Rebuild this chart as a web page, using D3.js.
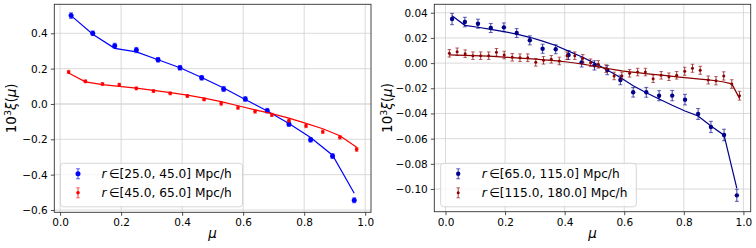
<!DOCTYPE html>
<html>
<head>
<meta charset="utf-8" />
<title>xi mu</title>
<script src="https://cdn.jsdelivr.net/npm/d3@7"></script>
<style>
  body { margin: 0; background: #fff; }
  svg { font-family: "DejaVu Sans", sans-serif; }
</style>
</head>
<body>
<svg width="756" height="248"></svg>
<script>
// ---- data ----
var xTicks = [0.0, 0.2, 0.4, 0.6, 0.8, 1.0];
var leftYTicks = [-0.6, -0.4, -0.2, 0.0, 0.2, 0.4];
var rightYTicks = [-0.10, -0.08, -0.06, -0.04, -0.02, 0.00, 0.02, 0.04];

// left panel, r in [25,45], 14 bins
var muA = [0.036, 0.107, 0.179, 0.250, 0.321, 0.393, 0.464, 0.536, 0.607, 0.679, 0.750, 0.821, 0.893, 0.964];
var dataA = [0.500, 0.400, 0.330, 0.305, 0.250, 0.205, 0.148, 0.085, 0.028, -0.038, -0.113, -0.203, -0.295, -0.545];
var errA = [0.016, 0.013, 0.014, 0.015, 0.013, 0.013, 0.013, 0.014, 0.013, 0.013, 0.014, 0.013, 0.014, 0.014];
var modelA = [0.500, 0.395, 0.315, 0.295, 0.250, 0.205, 0.150, 0.090, 0.025, -0.040, -0.110, -0.190, -0.290, -0.505];

// left panel, r in [45,65], 18 bins
var muB = [0.028, 0.083, 0.139, 0.194, 0.250, 0.306, 0.361, 0.417, 0.472, 0.528, 0.583, 0.639, 0.694, 0.750, 0.806, 0.861, 0.917, 0.972];
var dataB = [0.181, 0.128, 0.113, 0.109, 0.088, 0.073, 0.060, 0.045, 0.026, 0.002, -0.021, -0.043, -0.062, -0.094, -0.124, -0.157, -0.189, -0.257];
var errB = [0.009, 0.008, 0.008, 0.008, 0.008, 0.008, 0.008, 0.008, 0.008, 0.009, 0.009, 0.009, 0.009, 0.009, 0.010, 0.010, 0.010, 0.011];
var modelB = [0.175, 0.125, 0.110, 0.100, 0.090, 0.077, 0.064, 0.050, 0.033, 0.013, -0.010, -0.033, -0.055, -0.080, -0.110, -0.140, -0.180, -0.245];

// right panel, r in [65,115], 23 bins
var muC = [0.022, 0.065, 0.109, 0.152, 0.196, 0.239, 0.283, 0.326, 0.370, 0.413, 0.457, 0.500, 0.543, 0.587, 0.630, 0.674, 0.717, 0.761, 0.804, 0.848, 0.891, 0.935, 0.978];
var dataC = [0.0350, 0.0326, 0.0313, 0.0279, 0.0284, 0.0239, 0.0181, 0.0114, 0.0110, 0.0064, 0.0006, -0.0018, -0.0055, -0.0134, -0.0232, -0.0232, -0.0259, -0.0258, -0.0290, -0.0404, -0.0507, -0.0571, -0.1050];
var errC = [0.0045, 0.0038, 0.0036, 0.0036, 0.0035, 0.0035, 0.0036, 0.0036, 0.0036, 0.0036, 0.0037, 0.0037, 0.0037, 0.0038, 0.0038, 0.0039, 0.0040, 0.0041, 0.0042, 0.0043, 0.0045, 0.0046, 0.0048];
var modelC = [0.0376, 0.0300, 0.0285, 0.0268, 0.0250, 0.0230, 0.0205, 0.0175, 0.0140, 0.0095, 0.0050, 0.0000, -0.0055, -0.0115, -0.0180, -0.0235, -0.0285, -0.0335, -0.0380, -0.0420, -0.0500, -0.0572, -0.0995];

// right panel, r in [115,180], 38 bins
var muD = [0.013, 0.039, 0.066, 0.092, 0.118, 0.145, 0.171, 0.197, 0.224, 0.250, 0.276, 0.303, 0.329, 0.355, 0.382, 0.408, 0.434, 0.461, 0.487, 0.513, 0.539, 0.566, 0.592, 0.618, 0.645, 0.671, 0.697, 0.724, 0.750, 0.776, 0.803, 0.829, 0.855, 0.882, 0.908, 0.934, 0.961, 0.987];
var dataD = [0.0078, 0.0090, 0.0075, 0.0059, 0.0059, 0.0059, 0.0086, 0.0064, 0.0046, 0.0043, 0.0043, 0.0006, 0.0022, 0.0030, 0.0017, 0.0059, 0.0059, 0.0038, 0.0003, -0.0010, -0.0044, -0.0102, -0.0102, -0.0081, -0.0071, -0.0071, -0.0124, -0.0097, -0.0108, -0.0097, -0.0065, -0.0041, -0.0057, -0.0134, -0.0140, -0.0102, -0.0166, -0.0259];
var errD = [0.0030, 0.0030, 0.0030, 0.0030, 0.0030, 0.0030, 0.0030, 0.0030, 0.0030, 0.0030, 0.0030, 0.0030, 0.0030, 0.0030, 0.0030, 0.0030, 0.0030, 0.0030, 0.0030, 0.0030, 0.0030, 0.0030, 0.0030, 0.0030, 0.0030, 0.0030, 0.0030, 0.0030, 0.0030, 0.0030, 0.0032, 0.0032, 0.0032, 0.0032, 0.0033, 0.0033, 0.0034, 0.0035];
var modelD = [0.0065, 0.0064, 0.0062, 0.0060, 0.0058, 0.0056, 0.0052, 0.0048, 0.0044, 0.0040, 0.0036, 0.0031, 0.0026, 0.0021, 0.0015, 0.0009, 0.0001, -0.0008, -0.0019, -0.0030, -0.0041, -0.0052, -0.0062, -0.0069, -0.0076, -0.0083, -0.0089, -0.0096, -0.0102, -0.0109, -0.0115, -0.0121, -0.0127, -0.0133, -0.0140, -0.0150, -0.0165, -0.0280];

var svg = d3.select("svg");

function zip(mu, val, err, model) {
  return mu.map(function (m, i) { return { mu: m, v: val[i], e: err[i], m: model[i] }; });
}

function drawPanel(cfg) {
  var x = d3.scaleLinear().domain(cfg.xDomain).range([cfg.left, cfg.right]);
  var y = d3.scaleLinear().domain(cfg.yDomain).range([cfg.bottom, cfg.top]);
  var g = svg.append("g");

  // grid
  g.append("g").selectAll("line").data(xTicks).enter().append("line")
    .attr("x1", d => x(d)).attr("x2", d => x(d))
    .attr("y1", cfg.top).attr("y2", cfg.bottom)
    .attr("stroke", "#d0d0d0").attr("stroke-width", 0.8);
  g.append("g").selectAll("line").data(cfg.yTicks).enter().append("line")
    .attr("x1", cfg.left).attr("x2", cfg.right)
    .attr("y1", d => y(d)).attr("y2", d => y(d))
    .attr("stroke", "#d0d0d0").attr("stroke-width", d => (d === 0 && cfg.zeroThick) ? 2 : 0.8)
    .attr("stroke-opacity", d => (d === 0 && cfg.zeroThick) ? 0.6 : 1);

  // axes
  var xAxis = d3.axisBottom(x).tickValues(xTicks).tickFormat(d3.format(".1f")).tickSize(3.5).tickPadding(3);
  var yAxis = d3.axisLeft(y).tickValues(cfg.yTicks).tickFormat(d3.format(cfg.yFmt)).tickSize(3.5).tickPadding(3);
  var gx = g.append("g").attr("transform", "translate(0," + cfg.bottom + ")").call(xAxis);
  var gy = g.append("g").attr("transform", "translate(" + cfg.left + ",0)").call(yAxis);
  [gx, gy].forEach(function (a) {
    a.select(".domain").remove();
    a.selectAll("line").attr("stroke", "#222").attr("stroke-width", 0.8);
    a.selectAll("text").attr("font-size", 10.5).attr("fill", "#000").attr("font-family", "DejaVu Sans");
  });

  // frame
  g.append("rect").attr("x", cfg.left).attr("y", cfg.top)
    .attr("width", cfg.right - cfg.left).attr("height", cfg.bottom - cfg.top)
    .attr("fill", "none").attr("stroke", "#333").attr("stroke-width", 0.9);

  // series
  var line = d3.line().x(d => x(d.mu)).y(d => y(d.m));
  cfg.series.forEach(function (s) {
    var pts = zip(s.mu, s.val, s.err, s.model);
    g.append("path").datum(pts).attr("d", line)
      .attr("fill", "none").attr("stroke", s.color).attr("stroke-width", 1.2);
    var eg = g.append("g").selectAll("g").data(pts).enter().append("g");
    eg.append("line")
      .attr("x1", d => x(d.mu)).attr("x2", d => x(d.mu))
      .attr("y1", d => y(d.v - d.e)).attr("y2", d => y(d.v + d.e))
      .attr("stroke", s.color).attr("stroke-width", 1).attr("stroke-opacity", 0.75);
    [-1, 1].forEach(function (sg) {
      eg.append("line")
        .attr("x1", d => x(d.mu) - s.cap).attr("x2", d => x(d.mu) + s.cap)
        .attr("y1", d => y(d.v + sg * d.e)).attr("y2", d => y(d.v + sg * d.e))
        .attr("stroke", s.color).attr("stroke-width", 0.8).attr("stroke-opacity", 0.75);
    });
    eg.append("circle").attr("cx", d => x(d.mu)).attr("cy", d => y(d.v))
      .attr("r", s.r).attr("fill", s.color);
  });

  // axis labels
  g.append("text").attr("x", (cfg.left + cfg.right) / 2).attr("y", 238)
    .attr("text-anchor", "middle").attr("font-size", 13.5).attr("font-style", "italic").text("μ");
  var yl = g.append("text")
    .attr("transform", "translate(" + cfg.yLabelX + "," + ((cfg.top + cfg.bottom) / 2) + ") rotate(-90)")
    .attr("text-anchor", "middle").attr("font-size", 13.5);
  yl.append("tspan").text("10");
  yl.append("tspan").attr("font-size", 9.5).attr("dy", -5.5).text("3");
  yl.append("tspan").attr("dy", 5.5).attr("font-style", "italic").text("ξ");
  yl.append("tspan").text("(");
  yl.append("tspan").attr("font-style", "italic").text("μ");
  yl.append("tspan").text(")");

  // legend
  var L = cfg.legend;
  var lg = g.append("g");
  lg.append("rect").attr("x", L.x).attr("y", L.y).attr("width", L.w).attr("height", L.h)
    .attr("rx", 3).attr("fill", "#fff").attr("fill-opacity", 0.8)
    .attr("stroke", "#cccccc").attr("stroke-width", 0.8);
  cfg.series.forEach(function (s, i) {
    var cy = L.y + 10.5 + i * 19;
    var mx = L.x + 17.5;
    lg.append("line").attr("x1", mx).attr("x2", mx).attr("y1", cy - 5).attr("y2", cy + 5)
      .attr("stroke", s.color).attr("stroke-width", 1).attr("stroke-opacity", 0.75);
    [-5, 5].forEach(function (o) {
      lg.append("line").attr("x1", mx - s.cap).attr("x2", mx + s.cap).attr("y1", cy + o).attr("y2", cy + o)
        .attr("stroke", s.color).attr("stroke-width", 0.8).attr("stroke-opacity", 0.75);
    });
    lg.append("circle").attr("cx", mx).attr("cy", cy).attr("r", s.r).attr("fill", s.color);
    var t = lg.append("text").attr("x", L.x + 41).attr("y", cy + 4.5).attr("font-size", 12.2);
    t.append("tspan").attr("font-style", "italic").text("r");
    t.append("tspan").text("\u2009∈[" + s.range + "] Mpc/h");
  });
}

drawPanel({
  left: 54.3, right: 371, top: 4.3, bottom: 212.3,
  xDomain: [-0.019, 1.019], yDomain: [-0.613, 0.564],
  yTicks: leftYTicks, yFmt: ".1f", yLabelX: 16, zeroThick: true,
  legend: { x: 60.5, y: 163.3, w: 182, h: 43.5 },
  series: [
    { mu: muA, val: dataA, err: errA, model: modelA, color: "#0000ff", r: 2.5, cap: 2, range: "25.0, 45.0" },
    { mu: muB, val: dataB, err: errB, model: modelB, color: "#ff0000", r: 1.8, cap: 1.8, range: "45.0, 65.0" }
  ]
});

drawPanel({
  left: 434.3, right: 750.7, top: 4.3, bottom: 211.7,
  xDomain: [-0.0376, 1.0245], yDomain: [-0.118, 0.0467],
  yTicks: rightYTicks, yFmt: ".2f", yLabelX: 392, zeroThick: false,
  legend: { x: 440.7, y: 163.3, w: 195.6, h: 43.5 },
  series: [
    { mu: muC, val: dataC, err: errC, model: modelC, color: "#00008b", r: 2.2, cap: 2, range: "65.0, 115.0" },
    { mu: muD, val: dataD, err: errD, model: modelD, color: "#8b0000", r: 1.5, cap: 1.8, range: "115.0, 180.0" }
  ]
});
</script>
</body>
</html>
